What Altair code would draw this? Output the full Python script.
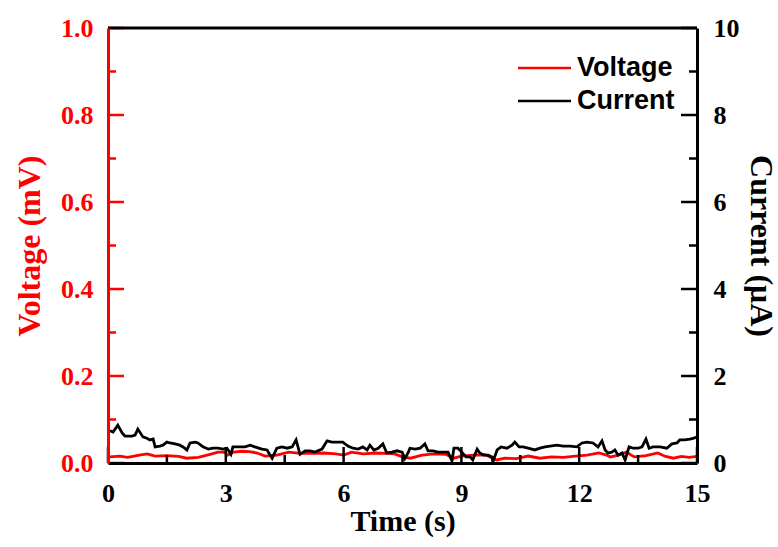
import altair as alt
import pandas as pd

# ---- data ----
cur_t = [0.05,0.13,0.25,0.36,0.43,0.61,0.69,0.76,0.89,0.99,
         1.07,1.15,1.20,1.32,1.40,1.50,1.58,1.71,1.83,1.91,
         2.01,2.09,2.22,2.29,2.42,2.55,2.67,2.80,2.93,3.03,
         3.13,3.18,3.31,3.49,3.62,3.74,3.92,4.05,4.18,4.30,
         4.43,4.56,4.69,4.79,4.89,5.02,5.14,5.27,5.45,5.58,
         5.70,5.86,5.98,6.11,6.24,6.37,6.49,6.60,6.67,6.77,
         6.88,7.00,7.10,7.23,7.36,7.49,7.56,7.64,7.69,7.82,
         7.95,8.07,8.15,8.28,8.40,8.53,8.66,8.76,8.81,8.91,
         9.01,9.12,9.22,9.29,9.40,9.47,9.57,9.68,9.78,9.80,
         9.91,10.01,10.16,10.29,10.36,10.47,10.57,10.70,10.87,11.00,
         11.13,11.26,11.43,11.59,11.76,11.94,12.07,12.20,12.35,12.48,
         12.58,12.66,12.73,12.83,12.91,12.99,13.09,13.17,13.27,13.37,
         13.50,13.60,13.70,13.78,13.88,14.06,14.23,14.36,14.49,14.56,
         14.69,14.82,14.92,15.0]
cur_v = [0.74,0.71,0.87,0.69,0.62,0.62,0.64,0.78,0.60,0.57,
         0.53,0.55,0.37,0.39,0.41,0.48,0.46,0.44,0.41,0.37,
         0.30,0.46,0.48,0.46,0.37,0.32,0.34,0.34,0.32,0.34,
         0.20,0.37,0.37,0.37,0.41,0.37,0.32,0.30,0.11,0.34,
         0.37,0.34,0.37,0.53,0.20,0.28,0.28,0.25,0.32,0.51,
         0.48,0.48,0.48,0.39,0.34,0.32,0.37,0.30,0.41,0.30,
         0.34,0.44,0.23,0.25,0.28,0.25,0.10,0.23,0.34,0.32,
         0.34,0.44,0.28,0.28,0.25,0.25,0.25,0.05,0.34,0.34,
         0.25,0.14,0.14,0.07,0.32,0.23,0.18,0.18,0.14,0.02,
         0.30,0.37,0.34,0.41,0.48,0.37,0.37,0.34,0.30,0.34,
         0.37,0.39,0.41,0.39,0.39,0.37,0.46,0.48,0.46,0.37,
         0.51,0.30,0.23,0.25,0.30,0.18,0.23,0.07,0.37,0.34,
         0.34,0.37,0.55,0.34,0.37,0.37,0.34,0.44,0.46,0.53,
         0.53,0.55,0.57,0.60]

volt_t = [0.05,0.3,0.5,0.8,1.0,1.2,1.5,1.8,2.0,2.3,
          2.6,2.8,2.95,3.05,3.2,3.4,3.6,3.8,4.0,4.3,
          4.6,4.9,5.2,5.5,5.8,6.0,6.2,6.5,6.8,7.1,
          7.3,7.5,7.7,8.0,8.3,8.6,8.8,9.0,9.3,9.6,
          9.9,10.1,10.4,10.7,11.0,11.3,11.6,11.9,12.2,12.5,
          12.7,12.8,13.0,13.2,13.4,13.7,14.0,14.2,14.4,14.6,
          14.8,15.0]
volt_v = [0.014,0.016,0.013,0.018,0.021,0.016,0.017,0.015,0.011,0.013,
          0.020,0.025,0.025,0.018,0.025,0.027,0.026,0.023,0.016,0.018,
          0.025,0.022,0.022,0.023,0.021,0.018,0.025,0.021,0.023,0.022,
          0.021,0.014,0.011,0.018,0.021,0.020,0.011,0.016,0.018,0.019,
          0.007,0.011,0.010,0.016,0.011,0.014,0.013,0.016,0.018,0.023,
          0.018,0.014,0.018,0.025,0.014,0.017,0.023,0.015,0.011,0.015,
          0.013,0.015]

x_major = [0, 3, 6, 9, 12, 15]
x_minor = [1.5, 4.5, 7.5, 10.5, 13.5]
v_major = [0.0, 0.2, 0.4, 0.6, 0.8, 1.0]
v_minor = [0.1, 0.3, 0.5, 0.7, 0.9]
c_major = [0, 2, 4, 6, 8, 10]
c_minor = [1, 3, 5, 7, 9]
legend_labels = ["Voltage", "Current"]

W, H = 589, 435
RED = "#ff0000"
SERIF = "Liberation Serif"

volt_df = pd.DataFrame({"t": volt_t, "v": volt_v})
cur_df = pd.DataFrame({"t": cur_t, "c": cur_v})

xscale = alt.Scale(domain=[0, 15], nice=False)
vscale = alt.Scale(domain=[0, 1], nice=False)
cscale = alt.Scale(domain=[0, 10], nice=False)

x_axis = alt.Axis(values=x_major, format="d", ticks=False, grid=False,
                  domainColor="black", domainWidth=3, labelColor="black",
                  labelFont=SERIF, labelFontWeight="bold", labelFontSize=26,
                  labelPadding=17, labelFlush=False, labelOverlap=False,
                  title="Time (s)", titleFont=SERIF, titleFontWeight="bold",
                  titleFontSize=30, titleColor="black", titlePadding=0, zindex=1)

v_axis = alt.Axis(orient="left", values=v_major, format=".1f", ticks=False, grid=False,
                  domainColor=RED, domainWidth=3, labelColor=RED,
                  labelFont=SERIF, labelFontWeight="bold", labelFontSize=26,
                  labelPadding=15, labelOverlap=False, labelFlush=False,
                  title="Voltage (mV)", titleFont=SERIF, titleFontWeight="bold",
                  titleFontSize=32, titleColor=RED, titlePadding=14, zindex=1)

c_axis = alt.Axis(orient="right", values=c_major, format="d", ticks=False, grid=False,
                  domainColor="black", domainWidth=3, labelColor="black",
                  labelFont=SERIF, labelFontWeight="bold", labelFontSize=26,
                  labelPadding=16, labelOverlap=False, labelFlush=False,
                  title="Current (μA)", titleFont=SERIF, titleFontWeight="bold",
                  titleFontSize=32, titleColor="black", titleAngle=90,
                  titlePadding=4, zindex=1)

volt_line = alt.Chart(volt_df).mark_line(color=RED, strokeWidth=2.8).encode(
    x=alt.X("t:Q", scale=xscale, axis=x_axis),
    y=alt.Y("v:Q", scale=vscale, axis=v_axis),
)

cur_line = alt.Chart(cur_df).mark_line(color="black", strokeWidth=2.8).encode(
    x=alt.X("t:Q", scale=xscale),
    y=alt.Y("c:Q", scale=cscale, axis=c_axis),
)

def vticks(vals, length):
    return alt.Chart(pd.DataFrame({"v": vals})).mark_rule(color=RED, strokeWidth=2.5).encode(
        y=alt.Y("v:Q", scale=vscale, axis=v_axis), x=alt.value(0), x2=alt.value(length))

def cticks(vals, length):
    return alt.Chart(pd.DataFrame({"c": vals})).mark_rule(color="black", strokeWidth=2.5).encode(
        y=alt.Y("c:Q", scale=cscale, axis=c_axis), x=alt.value(W), x2=alt.value(W - length))

def xticks(vals, length):
    return alt.Chart(pd.DataFrame({"t": vals})).mark_rule(color="black", strokeWidth=2.5).encode(
        x=alt.X("t:Q", scale=xscale), y=alt.value(H), y2=alt.value(H - length))

top_border = alt.Chart(pd.DataFrame({"a": [0]})).mark_rule(color="black", strokeWidth=3).encode(
    x=alt.value(0), x2=alt.value(W), y=alt.value(0))

def legend_entry(label, color, ypix):
    d = pd.DataFrame({"label": [label]})
    sym = alt.Chart(d).mark_rule(color=color, strokeWidth=2.5).encode(
        x=alt.value(410), x2=alt.value(463), y=alt.value(ypix))
    txt = alt.Chart(d).mark_text(align="left", baseline="middle", font="Liberation Sans",
                                 fontWeight="bold", fontSize=27, color="black").encode(
        text="label:N", x=alt.value(469), y=alt.value(ypix))
    return sym + txt

volt_layer = alt.layer(volt_line, vticks(v_major, 16), vticks(v_minor, 8),
                       xticks(x_major, 16), xticks(x_minor, 8))
cur_layer = alt.layer(cur_line, cticks(c_major, 16), cticks(c_minor, 8), top_border,
                      legend_entry(legend_labels[0], RED, 40),
                      legend_entry(legend_labels[1], "black", 73))

chart = alt.layer(volt_layer, cur_layer).resolve_scale(y="independent").properties(
    width=W, height=H,
    autosize=alt.AutoSizeParams(type="none"),
    padding={"left": 108, "top": 28, "right": 81, "bottom": 84},
).configure_view(stroke=None).configure(background="white")

chart.save("out.html", embed_options={"renderer": "svg", "actions": False})
